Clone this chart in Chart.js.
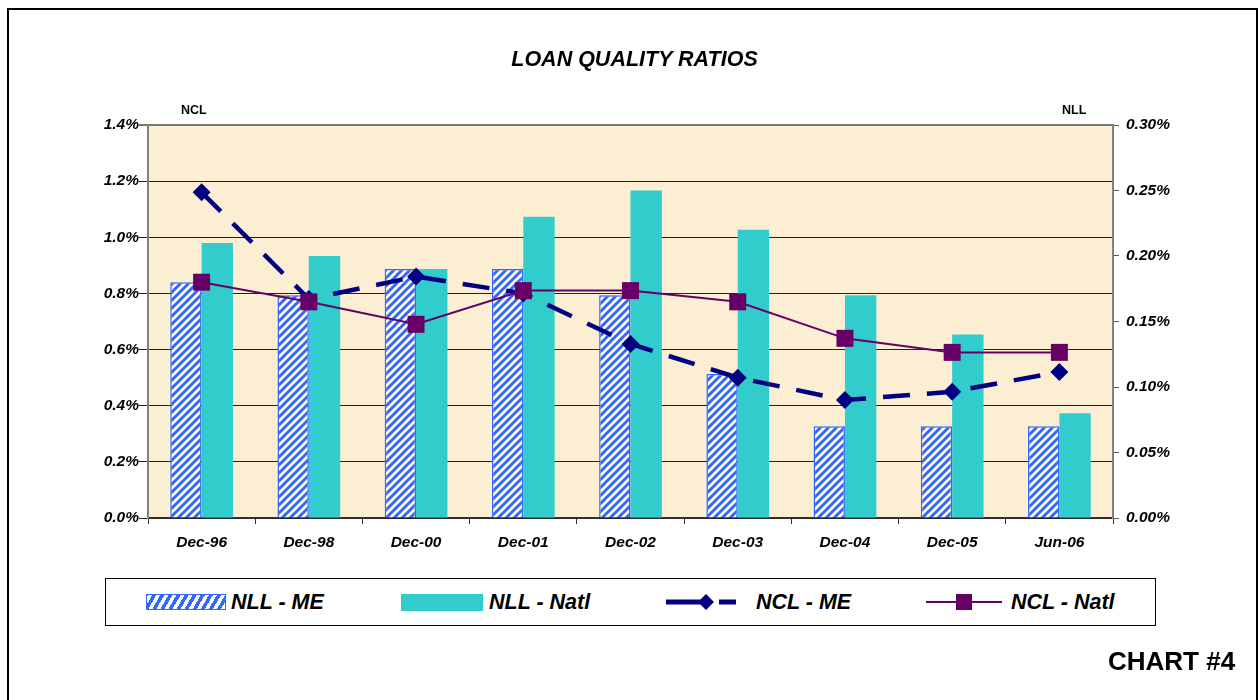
<!DOCTYPE html>
<html>
<head>
<meta charset="utf-8">
<script src="https://cdn.jsdelivr.net/npm/chart.js@4.4.0/dist/chart.umd.min.js"></script>
<style>
  html, body { margin:0; padding:0; background:#fff; }
  body { width:1258px; height:700px; position:relative; overflow:hidden; font-family:"Liberation Sans", Arial, sans-serif; }
  #frame { position:absolute; left:7px; top:8px; width:1247px; height:720px; border:2px solid #000; border-bottom:none; }
  #wrap { position:absolute; left:0; top:0; width:1258px; height:700px; }
  .txt { position:absolute; font-weight:bold; color:#000; white-space:nowrap; }
  #title { left:0; width:1269px; top:47px; text-align:center; font-size:21.5px; font-style:italic; }
  #ncl { left:181px; top:103px; font-size:12.5px; }
  #nll { left:1062px; top:103px; font-size:12.5px; }
  #chartno { left:1108px; top:646px; font-size:26px; }
  #legend { position:absolute; left:105px; top:578px; width:1049px; height:46px; border:1px solid #000; background:#fff; }
  .lab { position:absolute; top:11px; font-size:21.5px; font-style:italic; font-weight:bold; }
  .sw { position:absolute; }
</style>
</head>
<body>
<div id="frame"></div>
<div id="wrap"><canvas id="graficoRatios" width="1258" height="700"></canvas></div>
<div class="txt" id="title">LOAN QUALITY RATIOS</div>
<div class="txt" id="ncl">NCL</div>
<div class="txt" id="nll">NLL</div>
<div class="txt" id="chartno">CHART #4</div>
<div id="legend">
  <div class="sw" style="left:40px;top:15px;width:78px;height:14px;border:1.5px solid #3366ff;background:repeating-linear-gradient(-60deg,#fff 0 3.5px,#3366ff 3.5px 7px);"></div>
  <div class="lab" style="left:125px;">NLL - ME</div>
  <div class="sw" style="left:295px;top:15px;width:82px;height:17px;background:#33cccc;"></div>
  <div class="lab" style="left:383px;">NLL - Natl</div>
  <svg class="sw" style="left:558px;top:12px;" width="80" height="22">
    <line x1="2" y1="11" x2="38" y2="11" stroke="#000080" stroke-width="5"/>
    <polygon points="42,3 50,11 42,19 34,11" fill="#000080"/>
    <line x1="55" y1="11" x2="72" y2="11" stroke="#000080" stroke-width="5"/>
  </svg>
  <div class="lab" style="left:650px;">NCL - ME</div>
  <svg class="sw" style="left:818px;top:12px;" width="80" height="22">
    <line x1="2" y1="11" x2="78" y2="11" stroke="#660066" stroke-width="2"/>
    <rect x="32" y="3" width="16" height="16" fill="#660066"/>
  </svg>
  <div class="lab" style="left:905px;">NCL - Natl</div>
</div>
<script>
// ------------------- DADOS -------------------
const categorias = ['Dec-96','Dec-98','Dec-00','Dec-01','Dec-02','Dec-03','Dec-04','Dec-05','Jun-06'];
const nllMe   = [0.18, 0.17, 0.19, 0.19, 0.17, 0.11, 0.07, 0.07, 0.07];
const nllNatl = [0.21, 0.20, 0.19, 0.23, 0.25, 0.22, 0.17, 0.14, 0.08];
const nclMe   = [1.16, 0.78, 0.86, 0.80, 0.62, 0.50, 0.42, 0.45, 0.52];
const nclNatl = [0.84, 0.77, 0.69, 0.81, 0.81, 0.77, 0.64, 0.59, 0.59];
const ticksNcl = [0, 0.2, 0.4, 0.6, 0.8, 1.0, 1.2, 1.4];
const ticksNll = [0, 0.05, 0.10, 0.15, 0.20, 0.25, 0.30];

function hachura(){
  const s = 8;
  const c = document.createElement('canvas');
  c.width = s; c.height = s;
  const g = c.getContext('2d');
  g.fillStyle = '#fff';
  g.fillRect(0,0,s,s);
  g.strokeStyle = '#3366ff';
  g.lineWidth = 3;
  g.beginPath();
  g.moveTo(0,s); g.lineTo(s,0);
  g.moveTo(-s/2,s/2); g.lineTo(s/2,-s/2);
  g.moveTo(s/2,s*1.5); g.lineTo(s*1.5,s/2);
  g.stroke();
  return g.createPattern(c,'repeat');
}

const fundoPlot = {
  id:'fundoPlot',
  beforeDraw(chart){
    const {ctx, chartArea:a} = chart;
    ctx.save();
    ctx.fillStyle = '#fbeed3';
    ctx.fillRect(a.left, a.top, a.right-a.left, a.bottom-a.top);
    ctx.restore();
  }
};

const fonteTick = {family:'"Liberation Sans", Arial, sans-serif', size:15.5, weight:'bold', style:'italic'};
const ctx = document.getElementById('graficoRatios').getContext('2d');

new Chart(ctx,{
  data:{
    labels:categorias,
    datasets:[
      {type:'line', label:'NCL - Natl', data:nclNatl, yAxisID:'y', order:0,
       borderColor:'#660066', borderWidth:2, pointStyle:'rect', pointRadius:12,
       pointBackgroundColor:'#660066', pointBorderWidth:0, tension:0},
      {type:'line', label:'NCL - ME', data:nclMe, yAxisID:'y', order:1,
       borderColor:'#000080', borderWidth:4.5, borderDash:[27,17], borderCapStyle:'butt',
       pointStyle:'rectRot', pointRadius:9, pointBackgroundColor:'#000080', pointBorderWidth:0, tension:0},
      {type:'bar', label:'NLL - ME', data:nllMe, yAxisID:'y1', order:2,
       backgroundColor:hachura(), borderColor:'#3366ff', borderWidth:1.5,
       barPercentage:1, categoryPercentage:0.585},
      {type:'bar', label:'NLL - Natl', data:nllNatl, yAxisID:'y1', order:3,
       backgroundColor:'#33cccc', borderWidth:0,
       barPercentage:1, categoryPercentage:0.585}
    ]
  },
  options:{
    responsive:false,
    animation:false,
    layout:{padding:{top:125, left:0, right:0, bottom:0}},
    plugins:{legend:{display:false}, tooltip:{enabled:false}, title:{display:false}},
    scales:{
      x:{
        afterFit(s){ s.height = 182; },
        grid:{display:true, drawOnChartArea:false, offset:true, tickLength:6, color:'#333'},
        border:{color:'#333', width:1.5},
        ticks:{font:fonteTick, color:'#000', padding:9, maxRotation:0}
      },
      y:{
        position:'left', min:0, max:1.4,
        afterFit(s){ s.width = 148; },
        afterBuildTicks(s){ s.ticks = ticksNcl.map(v=>({value:v})); },
        grid:{color:(c)=> c.tick && c.tick.value >= 1.39 ? '#777' : '#222', lineWidth:(c)=> c.tick && c.tick.value >= 1.39 ? 2 : 1, tickLength:9},
        border:{color:'#808080', width:2},
        ticks:{font:fonteTick, color:'#000', padding:0, callback:(v)=> Number(v).toFixed(1)+'%'}
      },
      y1:{
        position:'right', min:0, max:0.30,
        afterFit(s){ s.width = 145; },
        afterBuildTicks(s){ s.ticks = ticksNll.map(v=>({value:v})); },
        grid:{drawOnChartArea:false, tickLength:6, color:'#555'},
        border:{color:'#808080', width:2},
        ticks:{font:fonteTick, color:'#000', padding:7, callback:(v)=> Number(v).toFixed(2)+'%'}
      }
    }
  },
  plugins:[fundoPlot]
});
</script>
</body>
</html>
